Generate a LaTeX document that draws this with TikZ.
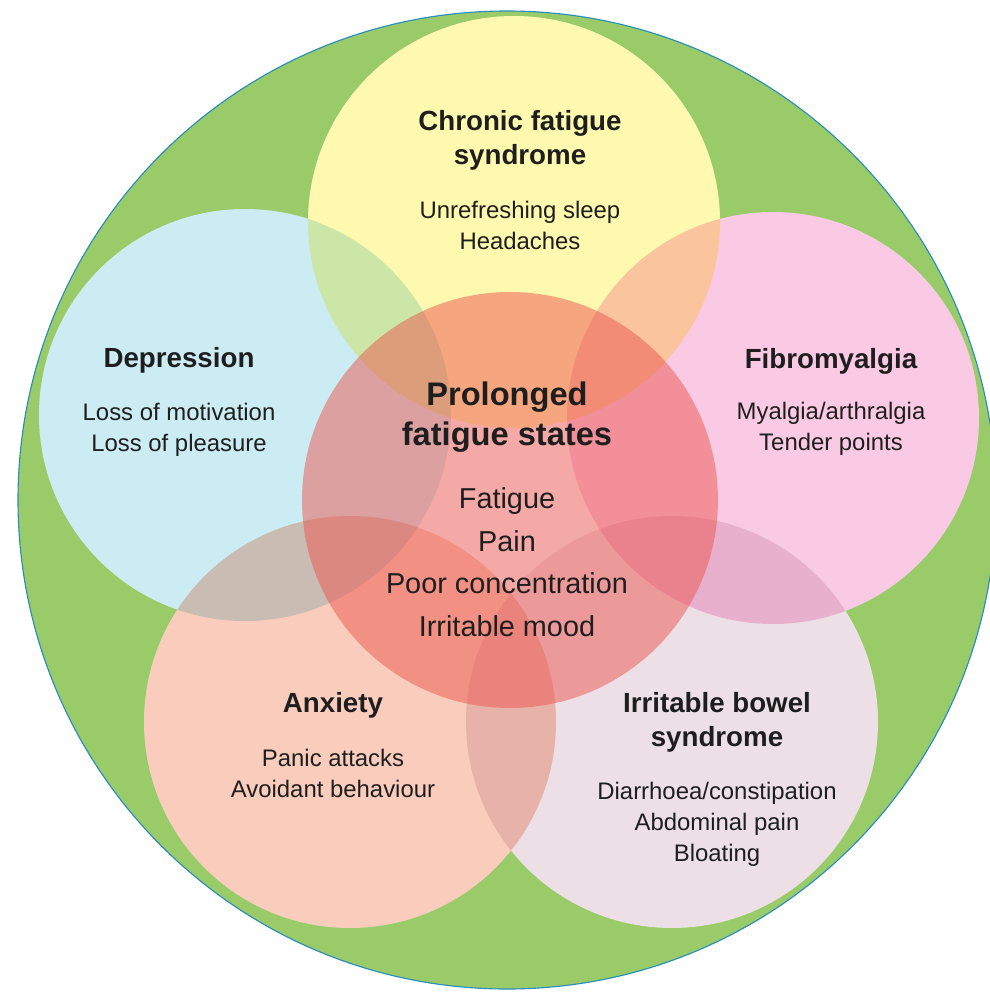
\documentclass[tikz,border=0pt]{standalone}
\usepackage{fontspec}
\setmainfont{Liberation Sans}
\usetikzlibrary{positioning}
\definecolor{ringGreen}{RGB}{153,204,104}
\definecolor{ringEdge}{RGB}{40,140,190}
\definecolor{cfsYellow}{RGB}{255,249,176}
\definecolor{depBlue}{RGB}{204,236,244}
\definecolor{fibroPink}{RGB}{250,202,228}
\definecolor{anxPeach}{RGB}{250,204,188}
\definecolor{ibsGrey}{RGB}{236,224,230}
\definecolor{hubRed}{RGB}{236,85,78}
\definecolor{inkGrey}{RGB}{30,30,30}

\begin{document}
\begin{tikzpicture}[
        x=0.025cm, y=-0.025cm,
        titletext/.style={font=\bfseries\fontsize{19.7}{24.2}\selectfont, align=center, text=inkGrey, inner sep=0pt},
        itemtext/.style={font=\fontsize{17}{22}\selectfont, align=center, text=inkGrey, inner sep=0pt},
        hubtitle/.style={font=\bfseries\fontsize{23.2}{28.5}\selectfont, align=center, text=inkGrey, inner sep=0pt},
        hubitem/.style={font=\fontsize{20.5}{30.2}\selectfont, align=center, text=inkGrey, inner sep=0pt}
    ]
        \useasboundingbox (0,0) rectangle (990,993);

        % Outer ring
        \fill[ringGreen, draw=ringEdge, line width=0.8pt] (507,500) circle (489);

        % Circle centres
        \coordinate (hub) at (510,500);
        \coordinate (cfs) at (514,222);
        \coordinate (dep) at (245,415);
        \coordinate (fibro) at (773,418);
        \coordinate (anx) at (350,722);
        \coordinate (ibs) at (672,722);

        % Circles
        \fill[white] (cfs) circle (206) (dep) circle (206) (fibro) circle (206)
            (anx) circle (206) (ibs) circle (206) (hub) circle (208);
        \begin{scope}[blend mode=multiply]
            \foreach \c/\col in {cfs/cfsYellow, dep/depBlue, fibro/fibroPink, anx/anxPeach, ibs/ibsGrey}
                \fill[\col] (\c) circle (206);
        \end{scope}
        \fill[hubRed, fill opacity=0.5] (hub) circle (208);

        % Labels
        \node[titletext] (cfstitle) at (520,140) {Chronic fatigue\\syndrome};
        \node[itemtext] (cfsitems) at (520,225) {Unrefreshing sleep\\Headaches};

        \node[titletext] (deptitle) at (179,360) {Depression};
        \node[itemtext] (depitems) at (179,430) {Loss of motivation\\Loss of pleasure};

        \node[titletext] (fibrotitle) at (831,361) {Fibromyalgia};
        \node[itemtext] (fibroitems) at (831,429) {Myalgia/arthralgia\\Tender points};

        \node[hubtitle] (hubtitle) at (507,417) {Prolonged\\fatigue states};
        \node[hubitem] (hubitems) at (507,562) {Fatigue\\Pain\\Poor concentration\\Irritable mood};

        \node[titletext] (anxtitle) at (333,705) {Anxiety};
        \node[itemtext] (anxitems) at (333,773) {Panic attacks\\Avoidant behaviour};

        \node[titletext] (ibstitle) at (717,722) {Irritable bowel\\syndrome};
        \node[itemtext] (ibsitems) at (717,824) {Diarrhoea/constipation\\Abdominal pain\\Bloating};
    \end{tikzpicture}
\end{document}
